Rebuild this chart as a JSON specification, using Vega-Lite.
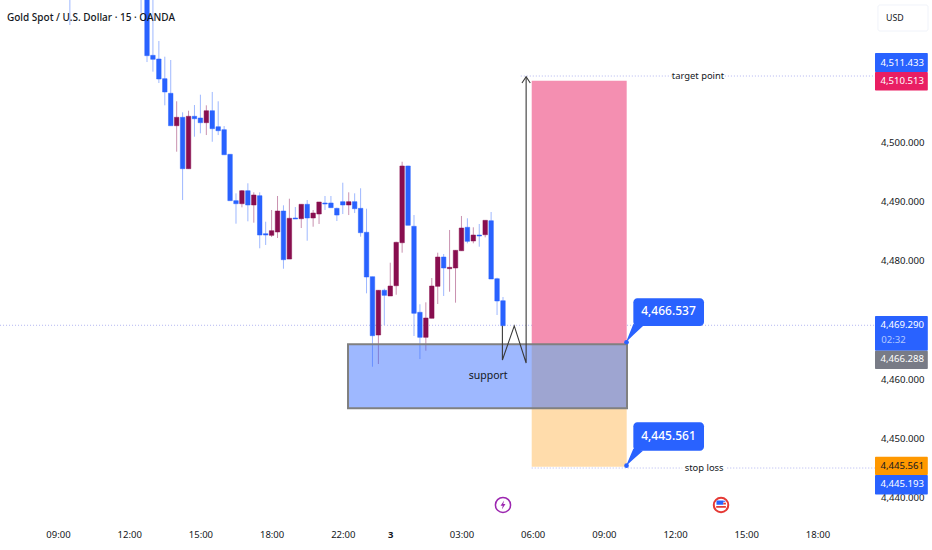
{
  "$schema": "https://vega.github.io/schema/vega-lite/v6.json",
  "width": 875,
  "height": 516,
  "autosize": {"type": "none"},
  "padding": {"left": 0, "top": 0, "right": 57, "bottom": 34},
  "background": "white",
  "config": {"view": {"stroke": null}, "font": "Noto Sans", "text": {"font": "Noto Sans"}},
  "resolve": {"scale": {"color": "independent"}},
  "datasets": {
    "candles": [
      {"i": 2, "dir": "down", "high": 4532, "open": 4530, "close": 4528, "low": 4519.73},
      {"i": 14, "dir": "down", "high": 4532, "open": 4530, "close": 4528, "low": 4521.76},
      {"i": 15, "dir": "down", "high": 4532, "open": 4530, "close": 4514.56, "low": 4513.49},
      {"i": 16, "dir": "down", "high": 4530, "open": 4514.62, "close": 4513.95, "low": 4511.86},
      {"i": 17, "dir": "down", "high": 4517.04, "open": 4514.0, "close": 4510.63, "low": 4509.95},
      {"i": 18, "dir": "down", "high": 4514.39, "open": 4510.68, "close": 4508.44, "low": 4506.19},
      {"i": 19, "dir": "down", "high": 4513.83, "open": 4508.22, "close": 4502.75, "low": 4502.75},
      {"i": 20, "dir": "up", "high": 4506.87, "open": 4502.75, "close": 4504.17, "low": 4498.37},
      {"i": 21, "dir": "down", "high": 4505.01, "open": 4504.17, "close": 4495.5, "low": 4490.22},
      {"i": 22, "dir": "up", "high": 4505.28, "open": 4495.5, "close": 4504.34, "low": 4495.5},
      {"i": 23, "dir": "down", "high": 4506.24, "open": 4504.34, "close": 4503.93, "low": 4500.9},
      {"i": 24, "dir": "down", "high": 4507.98, "open": 4504.05, "close": 4503.26, "low": 4501.47},
      {"i": 25, "dir": "up", "high": 4506.19, "open": 4503.26, "close": 4505.28, "low": 4501.18},
      {"i": 26, "dir": "down", "high": 4508.44, "open": 4505.28, "close": 4502.25, "low": 4500.05},
      {"i": 27, "dir": "down", "high": 4506.87, "open": 4502.58, "close": 4501.91, "low": 4501.18},
      {"i": 28, "dir": "down", "high": 4502.7, "open": 4502.08, "close": 4497.86, "low": 4497.86},
      {"i": 29, "dir": "down", "high": 4497.98, "open": 4497.93, "close": 4490.11, "low": 4490.11},
      {"i": 30, "dir": "down", "high": 4491.35, "open": 4490.11, "close": 4489.6, "low": 4486.23},
      {"i": 31, "dir": "up", "high": 4491.91, "open": 4489.6, "close": 4491.79, "low": 4488.99},
      {"i": 32, "dir": "down", "high": 4493.04, "open": 4491.79, "close": 4489.38, "low": 4486.63},
      {"i": 33, "dir": "up", "high": 4491.52, "open": 4489.38, "close": 4491.07, "low": 4486.4},
      {"i": 34, "dir": "down", "high": 4491.52, "open": 4490.95, "close": 4484.32, "low": 4482.08},
      {"i": 35, "dir": "down", "high": 4486.56, "open": 4484.54, "close": 4484.32, "low": 4482.64},
      {"i": 36, "dir": "up", "high": 4488.54, "open": 4484.27, "close": 4485.05, "low": 4483.98},
      {"i": 37, "dir": "up", "high": 4490.9, "open": 4484.83, "close": 4488.37, "low": 4483.82},
      {"i": 38, "dir": "down", "high": 4489.33, "open": 4488.37, "close": 4480.16, "low": 4478.64},
      {"i": 39, "dir": "up", "high": 4490.44, "open": 4480.27, "close": 4487.14, "low": 4480.27},
      {"i": 40, "dir": "down", "high": 4489.04, "open": 4487.19, "close": 4487.02, "low": 4487.02},
      {"i": 41, "dir": "up", "high": 4489.5, "open": 4487.07, "close": 4489.5, "low": 4485.5},
      {"i": 42, "dir": "down", "high": 4490.22, "open": 4489.5, "close": 4487.19, "low": 4483.36},
      {"i": 43, "dir": "up", "high": 4488.54, "open": 4487.19, "close": 4488.03, "low": 4485.72},
      {"i": 44, "dir": "up", "high": 4489.89, "open": 4487.86, "close": 4489.89, "low": 4486.18},
      {"i": 45, "dir": "down", "high": 4490.9, "open": 4489.72, "close": 4489.55, "low": 4488.54},
      {"i": 46, "dir": "down", "high": 4490.9, "open": 4489.72, "close": 4488.93, "low": 4488.88},
      {"i": 47, "dir": "down", "high": 4488.93, "open": 4488.82, "close": 4487.69, "low": 4486.68},
      {"i": 48, "dir": "down", "high": 4493.14, "open": 4489.94, "close": 4489.38, "low": 4487.86},
      {"i": 49, "dir": "up", "high": 4491.52, "open": 4489.38, "close": 4489.94, "low": 4487.69},
      {"i": 50, "dir": "down", "high": 4491.35, "open": 4489.94, "close": 4488.76, "low": 4488.03},
      {"i": 51, "dir": "down", "high": 4492.2, "open": 4488.82, "close": 4484.71, "low": 4484.04},
      {"i": 52, "dir": "down", "high": 4488.76, "open": 4484.78, "close": 4477.24, "low": 4474.49},
      {"i": 53, "dir": "down", "high": 4477.29, "open": 4477.29, "close": 4467.34, "low": 4462.11},
      {"i": 54, "dir": "up", "high": 4475.05, "open": 4467.46, "close": 4475.0, "low": 4462.57},
      {"i": 55, "dir": "down", "high": 4475.27, "open": 4475.0, "close": 4474.15, "low": 4469.15},
      {"i": 56, "dir": "up", "high": 4479.65, "open": 4474.04, "close": 4475.72, "low": 4474.04},
      {"i": 57, "dir": "up", "high": 4483.19, "open": 4475.77, "close": 4483.09, "low": 4474.25},
      {"i": 58, "dir": "up", "high": 4496.68, "open": 4483.02, "close": 4495.96, "low": 4481.34},
      {"i": 59, "dir": "down", "high": 4496.01, "open": 4495.96, "close": 4485.96, "low": 4485.96},
      {"i": 60, "dir": "down", "high": 4487.69, "open": 4485.79, "close": 4471.12, "low": 4467.29},
      {"i": 61, "dir": "down", "high": 4472.64, "open": 4471.29, "close": 4467.07, "low": 4463.41},
      {"i": 62, "dir": "up", "high": 4472.97, "open": 4467.07, "close": 4470.33, "low": 4464.81},
      {"i": 63, "dir": "up", "high": 4477.07, "open": 4470.28, "close": 4475.72, "low": 4470.28},
      {"i": 64, "dir": "up", "high": 4481.34, "open": 4475.67, "close": 4480.61, "low": 4472.69},
      {"i": 65, "dir": "down", "high": 4481.12, "open": 4480.61, "close": 4478.76, "low": 4474.04},
      {"i": 66, "dir": "up", "high": 4485.17, "open": 4478.64, "close": 4478.87, "low": 4474.76},
      {"i": 67, "dir": "up", "high": 4481.79, "open": 4478.76, "close": 4481.74, "low": 4472.91},
      {"i": 68, "dir": "up", "high": 4487.53, "open": 4481.67, "close": 4485.5, "low": 4481.67},
      {"i": 69, "dir": "down", "high": 4487.14, "open": 4485.62, "close": 4483.26, "low": 4482.92},
      {"i": 70, "dir": "up", "high": 4485.62, "open": 4483.31, "close": 4484.32, "low": 4482.92},
      {"i": 71, "dir": "down", "high": 4486.18, "open": 4484.32, "close": 4484.15, "low": 4482.35},
      {"i": 72, "dir": "up", "high": 4486.8, "open": 4484.37, "close": 4486.8, "low": 4483.93},
      {"i": 73, "dir": "down", "high": 4488.2, "open": 4486.73, "close": 4476.9, "low": 4476.9},
      {"i": 74, "dir": "down", "high": 4477.12, "open": 4476.95, "close": 4473.19, "low": 4470.83},
      {"i": 75, "dir": "down", "high": 4473.87, "open": 4473.24, "close": 4469.03, "low": 4469.03}
    ],
    "zones": [
      {"zone": "target", "from": 79.84, "to": 95.85, "top": 4510.34, "bottom": 4465.89},
      {"zone": "stop", "from": 79.84, "to": 95.85, "top": 4465.89, "bottom": 4445.25}
    ],
    "support": [
      {"from": 48.88, "to": 95.9, "top": 4465.89, "bottom": 4455.1}
    ],
    "levels": [
      {"level": "last", "from": -9.77, "to": 137.7, "price": 4469.1},
      {"level": "target", "from": 78, "to": 103.5, "price": 4511.13},
      {"level": "target", "from": 112.4, "to": 137.7, "price": 4511.13},
      {"level": "stop", "from": 79.84, "to": 105.2, "price": 4445.03},
      {"level": "stop", "from": 112.8, "to": 137.7, "price": 4445.03}
    ],
    "path": [
      {"part": "move", "seq": 1, "i": 74.9, "price": 4469.0},
      {"part": "move", "seq": 2, "i": 74.9, "price": 4463.24},
      {"part": "move", "seq": 3, "i": 76.9, "price": 4469.0},
      {"part": "move", "seq": 4, "i": 78.9, "price": 4462.74},
      {"part": "move", "seq": 5, "i": 78.9, "price": 4511.02},
      {"part": "head", "seq": 1, "i": 78.2, "price": 4509.95},
      {"part": "head", "seq": 2, "i": 78.9, "price": 4511.02},
      {"part": "head", "seq": 3, "i": 79.6, "price": 4509.95}
    ],
    "tags": [
      {"tag": "target", "from": 137.7, "to": 146.6, "top": 4515.01, "bottom": 4511.81},
      {"tag": "hit", "from": 137.7, "to": 146.6, "top": 4511.81, "bottom": 4508.69},
      {"tag": "last", "from": 137.7, "to": 146.6, "top": 4470.66, "bottom": 4464.81},
      {"tag": "close", "from": 137.7, "to": 146.6, "top": 4464.81, "bottom": 4461.73},
      {"tag": "stop", "from": 137.7, "to": 146.6, "top": 4446.94, "bottom": 4443.85},
      {"tag": "stop2", "from": 137.7, "to": 146.6, "top": 4443.85, "bottom": 4440.56}
    ],
    "bubbles": [
      {"from": 96.97, "to": 108.88, "top": 4473.65, "bottom": 4468.98},
      {"from": 96.97, "to": 108.88, "top": 4452.74, "bottom": 4447.95}
    ],
    "tails": [
      {"tail": "entry", "i": 95.73, "top": 4466.24, "bottom": 4466.24},
      {"tail": "entry", "i": 96.97, "top": 4469.31, "bottom": 4467.44},
      {"tail": "entry", "i": 98.6, "top": 4468.98, "bottom": 4468.98},
      {"tail": "stop", "i": 95.73, "top": 4445.37, "bottom": 4445.37},
      {"tail": "stop", "i": 96.97, "top": 4448.3, "bottom": 4446.53},
      {"tail": "stop", "i": 98.6, "top": 4447.95, "bottom": 4447.95}
    ],
    "dots": [
      {"i": 95.82, "price": 4466.24},
      {"i": 95.82, "price": 4445.42}
    ],
    "events": [
      {"event": "power", "i": 75, "price": 4438.8},
      {"event": "us", "i": 111.75, "price": 4438.8}
    ],
    "usd": [
      {"from": 138.2, "to": 146.64, "top": 4523.11, "bottom": 4518.72}
    ],
    "texts": [
      {"group": "title", "text": "Gold Spot / U.S. Dollar · 15 · OANDA", "i": -8.6, "price": 4520.92},
      {"group": "usd", "text": "USD", "i": 139.55, "price": 4520.92},
      {"group": "note", "text": "target point", "i": 107.87, "price": 4511.13},
      {"group": "note", "text": "stop loss", "i": 108.9, "price": 4445.03},
      {"group": "zone", "text": "support", "i": 72.5, "price": 4460.55},
      {"group": "bubble", "text": "4,466.537", "i": 102.9, "price": 4471.45},
      {"group": "bubble", "text": "4,445.561", "i": 102.9, "price": 4450.48},
      {"group": "tag", "text": "4,511.433", "i": 145.96, "price": 4513.41},
      {"group": "tag", "text": "4,510.513", "i": 145.96, "price": 4510.29},
      {"group": "tag", "text": "4,469.290", "i": 145.96, "price": 4469.15},
      {"group": "tag", "text": "4,466.288", "i": 145.96, "price": 4463.36},
      {"group": "tag", "text": "4,445.193", "i": 145.96, "price": 4442.28},
      {"group": "timer", "text": "02:32", "i": 142.9, "price": 4466.62},
      {"group": "tagdark", "text": "4,445.561", "i": 145.96, "price": 4445.37}
    ]
  },
  "encoding": {
    "x": {
      "type": "quantitative",
      "scale": {"domain": [-9.776, 137.7], "nice": false, "zero": false, "padding": 0}
    },
    "y": {
      "type": "quantitative",
      "scale": {"domain": [4436.94, 4523.95], "nice": false, "zero": false}
    }
  },
  "layer": [
    {
      "data": {"name": "levels"},
      "mark": {"type": "rule", "color": "#b2b5f0", "strokeWidth": 1, "strokeDash": [1, 2]},
      "encoding": {
        "x": {
          "field": "from",
          "title": null,
          "axis": {
            "orient": "bottom",
            "values": [0, 12, 24, 36, 48, 56, 68, 80, 92, 104, 116, 128],
            "labelExpr": "{'0':'09:00','12':'12:00','24':'15:00','36':'18:00','48':'22:00','56':'3','68':'03:00','80':'06:00','92':'09:00','104':'12:00','116':'15:00','128':'18:00'}[datum.value]",
            "grid": false, "domain": false, "ticks": false,
            "labelPadding": 13, "labelFontSize": 9.5, "labelColor": "#131722", "labelFont": "Noto Sans",
            "labelFontWeight": {"condition": {"test": "datum.value == 56", "value": "bold"}, "value": "normal"}
          }
        },
        "x2": {"field": "to"},
        "y": {
          "field": "price",
          "title": null,
          "axis": {
            "orient": "right",
            "values": [4440, 4450, 4460, 4480, 4490, 4500],
            "format": ",.3f",
            "grid": false, "domain": false, "ticks": false,
            "labelAlign": "right", "labelPadding": 49, "labelFontSize": 9.6, "labelColor": "#131722", "labelFont": "Noto Sans"
          }
        }
      }
    },
    {
      "data": {"name": "zones"},
      "mark": {"type": "rect"},
      "encoding": {
        "x": {"field": "from"},
        "x2": {"field": "to"},
        "y": {"field": "top"},
        "y2": {"field": "bottom"},
        "color": {"field": "zone", "type": "nominal", "legend": null, "scale": {"domain": ["target", "stop"], "range": ["#f48fb1", "#ffdcab"]}}
      }
    },
    {
      "data": {"name": "candles"},
      "mark": {"type": "rule", "strokeWidth": 1, "opacity": 0.45, "clip": true},
      "encoding": {
        "x": {"field": "i"},
        "y": {"field": "low"},
        "y2": {"field": "high"},
        "stroke": {"field": "dir", "type": "nominal", "legend": null, "scale": {"domain": ["down", "up"], "range": ["#2962ff", "#880e4f"]}}
      }
    },
    {
      "data": {"name": "candles"},
      "mark": {"type": "bar", "size": 4.5, "strokeWidth": 0.5, "clip": true},
      "encoding": {
        "x": {"field": "i"},
        "y": {"field": "open"},
        "y2": {"field": "close"},
        "fill": {"field": "dir", "type": "nominal", "legend": null, "scale": {"domain": ["down", "up"], "range": ["#2962ff", "#880e4f"]}},
        "stroke": {"field": "dir", "type": "nominal", "legend": null, "scale": {"domain": ["down", "up"], "range": ["#2962ff", "#880e4f"]}}
      }
    },
    {
      "data": {"name": "support"},
      "mark": {"type": "rect", "fill": "#2962ff", "fillOpacity": 0.45, "stroke": "#808080", "strokeWidth": 2},
      "encoding": {
        "x": {"field": "from"},
        "x2": {"field": "to"},
        "y": {"field": "top"},
        "y2": {"field": "bottom"}
      }
    },
    {
      "data": {"name": "path"},
      "mark": {"type": "line", "color": "#3a3a3a", "strokeWidth": 1.1},
      "encoding": {
        "x": {"field": "i"},
        "y": {"field": "price"},
        "detail": {"field": "part"},
        "order": {"field": "seq"}
      }
    },
    {
      "data": {"name": "tails"},
      "mark": {"type": "area", "color": "#2962ff"},
      "encoding": {
        "x": {"field": "i"},
        "y": {"field": "top"},
        "y2": {"field": "bottom"},
        "detail": {"field": "tail"}
      }
    },
    {
      "data": {"name": "bubbles"},
      "mark": {"type": "rect", "color": "#2962ff", "cornerRadius": 4},
      "encoding": {
        "x": {"field": "from"},
        "x2": {"field": "to"},
        "y": {"field": "top"},
        "y2": {"field": "bottom"}
      }
    },
    {
      "data": {"name": "dots"},
      "mark": {"type": "point", "filled": true, "color": "#2962ff", "size": 22, "opacity": 1},
      "encoding": {
        "x": {"field": "i"},
        "y": {"field": "price"}
      }
    },
    {
      "data": {"name": "tags"},
      "mark": {"type": "rect", "cornerRadius": 1},
      "encoding": {
        "x": {"field": "from"},
        "x2": {"field": "to"},
        "y": {"field": "top"},
        "y2": {"field": "bottom"},
        "color": {"field": "tag", "type": "nominal", "legend": null, "scale": {"domain": ["target", "hit", "last", "close", "stop", "stop2"], "range": ["#2962ff", "#e91e63", "#2962ff", "#787b86", "#ff9800", "#2962ff"]}}
      }
    },
    {
      "data": {"name": "usd"},
      "mark": {"type": "rect", "fill": "white", "stroke": "#f0f3fa", "strokeWidth": 1, "cornerRadius": 2},
      "encoding": {
        "x": {"field": "from"},
        "x2": {"field": "to"},
        "y": {"field": "top"},
        "y2": {"field": "bottom"}
      }
    },
    {
      "data": {"name": "events"},
      "transform": [{"filter": "datum.event == 'power'"}],
      "mark": {"type": "point", "shape": "circle", "filled": false, "fill": "white", "fillOpacity": 1, "stroke": "#9c27b0", "strokeWidth": 1.5, "size": 230, "opacity": 1},
      "encoding": {"x": {"field": "i"}, "y": {"field": "price"}}
    },
    {
      "data": {"name": "events"},
      "transform": [{"filter": "datum.event == 'power'"}],
      "mark": {"type": "point", "shape": "M0.25,-1 L-0.55,0.2 L-0.05,0.2 L-0.25,1 L0.55,-0.2 L0.05,-0.2 Z", "filled": true, "color": "#9c27b0", "size": 80, "opacity": 1},
      "encoding": {"x": {"field": "i"}, "y": {"field": "price"}}
    },
    {
      "data": {"name": "events"},
      "transform": [{"filter": "datum.event == 'us'"}],
      "mark": {"type": "point", "shape": "circle", "filled": false, "fill": "white", "fillOpacity": 1, "stroke": "#e53935", "strokeWidth": 2, "size": 210, "opacity": 1},
      "encoding": {"x": {"field": "i"}, "y": {"field": "price"}}
    },
    {
      "data": {"name": "events"},
      "transform": [{"filter": "datum.event == 'us'"}],
      "mark": {"type": "point", "shape": "M-0.8,-0.8 H0.4 V-0.05 H-0.8 Z M0.4,-0.75 H0.75 V-0.55 H0.4 Z", "filled": true, "color": "#2962ff", "size": 130, "opacity": 1},
      "encoding": {"x": {"field": "i"}, "y": {"field": "price"}}
    },
    {
      "data": {"name": "events"},
      "transform": [{"filter": "datum.event == 'us'"}],
      "mark": {"type": "point", "shape": "M-0.85,0.2 H0.85 V0.5 H-0.85 Z M0.4,-0.4 H0.85 V-0.1 H0.4 Z", "filled": true, "color": "#e53935", "size": 130, "opacity": 1},
      "encoding": {"x": {"field": "i"}, "y": {"field": "price"}}
    },
    {
      "data": {"name": "texts"},
      "transform": [{"filter": "datum.group == 'title'"}],
      "mark": {"type": "text", "align": "left", "baseline": "middle", "fontSize": 10, "fontWeight": 500, "font": "Noto Sans", "color": "#131722"},
      "encoding": {"x": {"field": "i"}, "y": {"field": "price"}, "text": {"field": "text"}}
    },
    {
      "data": {"name": "texts"},
      "transform": [{"filter": "datum.group == 'usd'"}],
      "mark": {"type": "text", "align": "left", "baseline": "middle", "fontSize": 8.8, "font": "Noto Sans", "color": "#131722"},
      "encoding": {"x": {"field": "i"}, "y": {"field": "price"}, "text": {"field": "text"}}
    },
    {
      "data": {"name": "texts"},
      "transform": [{"filter": "datum.group == 'note'"}],
      "mark": {"type": "text", "align": "center", "baseline": "middle", "fontSize": 9.4, "font": "Noto Sans", "color": "#131722"},
      "encoding": {"x": {"field": "i"}, "y": {"field": "price"}, "text": {"field": "text"}}
    },
    {
      "data": {"name": "texts"},
      "transform": [{"filter": "datum.group == 'zone'"}],
      "mark": {"type": "text", "align": "center", "baseline": "middle", "fontSize": 10.5, "font": "Noto Sans", "color": "#131722"},
      "encoding": {"x": {"field": "i"}, "y": {"field": "price"}, "text": {"field": "text"}}
    },
    {
      "data": {"name": "texts"},
      "transform": [{"filter": "datum.group == 'bubble'"}],
      "mark": {"type": "text", "align": "center", "baseline": "middle", "fontSize": 12, "fontWeight": 500, "font": "Noto Sans", "color": "white"},
      "encoding": {"x": {"field": "i"}, "y": {"field": "price"}, "text": {"field": "text"}}
    },
    {
      "data": {"name": "texts"},
      "transform": [{"filter": "datum.group == 'tag'"}],
      "mark": {"type": "text", "align": "right", "baseline": "middle", "fontSize": 9.6, "font": "Noto Sans", "color": "white"},
      "encoding": {"x": {"field": "i"}, "y": {"field": "price"}, "text": {"field": "text"}}
    },
    {
      "data": {"name": "texts"},
      "transform": [{"filter": "datum.group == 'timer'"}],
      "mark": {"type": "text", "align": "right", "baseline": "middle", "fontSize": 9.6, "font": "Noto Sans", "color": "#b3c8ff"},
      "encoding": {"x": {"field": "i"}, "y": {"field": "price"}, "text": {"field": "text"}}
    },
    {
      "data": {"name": "texts"},
      "transform": [{"filter": "datum.group == 'tagdark'"}],
      "mark": {"type": "text", "align": "right", "baseline": "middle", "fontSize": 9.6, "font": "Noto Sans", "color": "#131722"},
      "encoding": {"x": {"field": "i"}, "y": {"field": "price"}, "text": {"field": "text"}}
    }
  ]
}
